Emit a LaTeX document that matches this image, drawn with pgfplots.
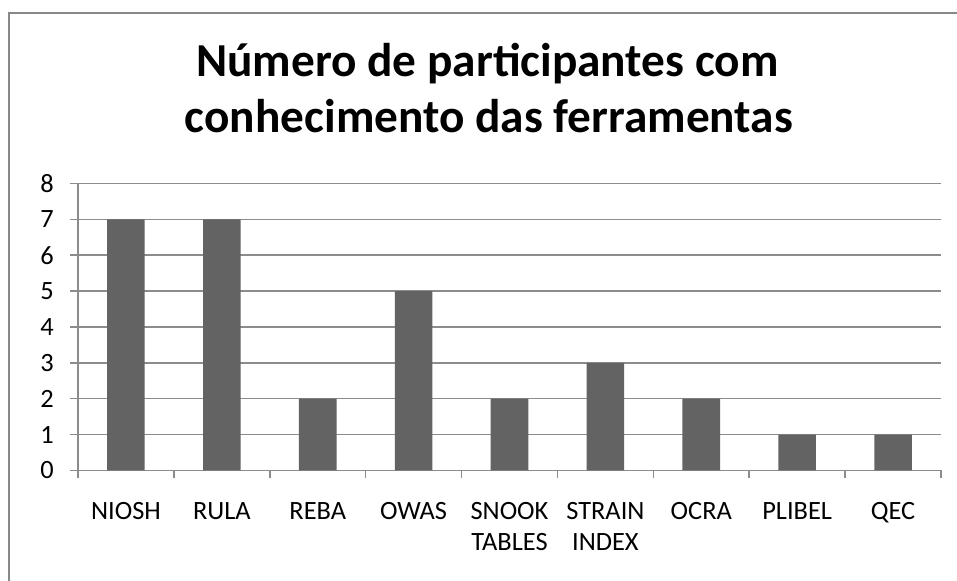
\documentclass[border=0pt]{standalone}
\usepackage{pgfplots}
\pgfplotsset{compat=1.18}
\usepackage{fontspec}
\setmainfont{Carlito}
\definecolor{barc}{RGB}{99,99,99}
\definecolor{gridc}{RGB}{140,140,140}
\definecolor{framec}{RGB}{136,136,136}
\begin{document}
\begin{tikzpicture}[x=1bp,y=1bp]
\path[use as bounding box] (0,0) rectangle (957,581);
\draw[framec, line width=2bp] (9,-5) -- (9,568) -- (962,568);
\node[font=\fontsize{47.5}{56}\selectfont\bfseries, anchor=base, inner sep=0pt] at (487.5,581-77) {Número de participantes com};
\node[font=\fontsize{47.5}{56}\selectfont\bfseries, anchor=base, inner sep=0pt] at (489,581-133) {conhecimento das ferramentas};
\begin{axis}[
  at={(78bp,110.5bp)}, anchor=south west,
  scale only axis, width=863bp, height=287bp,
  xmin=-0.5, xmax=8.5, ymin=0, ymax=8,
  ytick={0,...,8},
  xtick={0,...,8},
  xticklabels={NIOSH,RULA,REBA,OWAS,{SNOOK\\TABLES},{STRAIN\\INDEX},OCRA,PLIBEL,QEC},
  minor xtick={-0.5,0.5,...,8.5},
  major x tick style={draw=none},
  minor tick length=8bp,
  major tick length=8bp,
  tick align=outside,
  tick style={gridc, line width=1.5bp},
  ymajorgrids,
  major grid style={gridc, line width=1.5bp},
  axis x line*=bottom,
  axis y line*=left,
  axis line style={gridc, line width=1.5bp, -},
  /pgf/number format/assume math mode=true,
  ticklabel style={font=\fontsize{26.5}{31}\selectfont, text=black},
  xticklabel style={align=center, anchor=north, inner sep=0pt, yshift=-24bp},
  yticklabel style={anchor=east, inner sep=0pt, xshift=-16bp},
  clip=false,
]
\addplot[ybar, bar width=37.6bp, fill=barc, draw=none, bar shift=0pt]
  coordinates {(0,7) (1,7) (2,2) (3,5) (4,2) (5,3) (6,2) (7,1) (8,1)};
\end{axis}
\end{tikzpicture}
\end{document}
